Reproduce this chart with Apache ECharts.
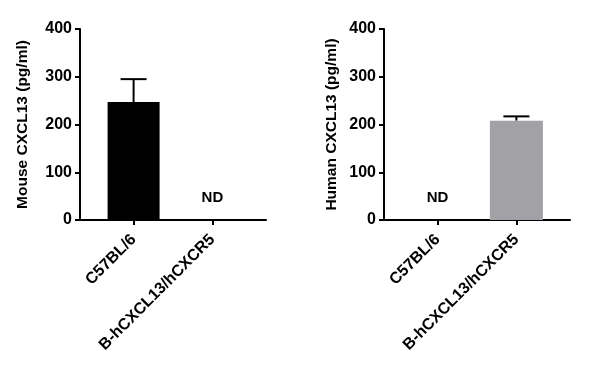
<!DOCTYPE html>
<html>
<head>
<meta charset="utf-8">
<script src="https://cdn.jsdelivr.net/npm/echarts@6/dist/echarts.min.js"></script>
<style>
html,body{margin:0;padding:0;background:#fff;}
#c{width:591px;height:368px;}
</style>
</head>
<body>
<div id="c"></div>
<script>
const categories = ['C57BL/6', 'B-hCXCL13/hCXCR5'];
const mouseMean = [247, null];
const mouseSD = [48, null];
const humanMean = [null, 208];
const humanSD = [null, 9];
const mouseND = [false, true];
const humanND = [true, false];
const yTicks = [0, 100, 200, 300, 400];
const yNames = ['Mouse CXCL13 (pg/ml)', 'Human CXCL13 (pg/ml)'];
const barColors = ['#000000', '#a2a1a6'];
const ndLevel = 46;

const FONT = '"Liberation Sans", Arial, sans-serif';
const chart = echarts.init(document.getElementById('c'), null, {renderer: 'canvas'});

function xAxis(gi) {
  return {
    type: 'value', gridIndex: gi, min: 0.32, max: 2.68,
    axisLine: {show: true, lineStyle: {color: '#000', width: 2}},
    axisTick: {show: true, customValues: [1, 2], length: 5, lineStyle: {color: '#000', width: 2}},
    axisLabel: {
      customValues: [1, 2], rotate: 45, margin: 17,
      color: '#000', fontFamily: FONT, fontWeight: 'bold', fontSize: 16,
      formatter: v => categories[Math.round(v) - 1] || ''
    },
    splitLine: {show: false}
  };
}
function yAxis(gi, gap) {
  return {
    type: 'value', gridIndex: gi, min: 0, max: 400, interval: 100,
    name: yNames[gi], nameLocation: 'middle', nameGap: gap,
    nameTextStyle: {color: '#000', fontFamily: FONT, fontWeight: 'bold', fontSize: 15.5},
    axisLine: {show: true, lineStyle: {color: '#000', width: 2}},
    axisTick: {show: true, length: 5, lineStyle: {color: '#000', width: 2}},
    axisLabel: {color: '#000', fontFamily: FONT, fontWeight: 'bold', fontSize: 16, margin: 8,
      formatter: v => yTicks.includes(v) ? String(v) : ''},
    splitLine: {show: false}
  };
}
function barData(means) {
  return means.map((m, i) => m == null ? null : [i + 1, m]).filter(d => d);
}
function errData(means, sds) {
  return means.map((m, i) => m == null ? null : [i + 1, m, m + sds[i]]).filter(d => d);
}
function ndData(flags) {
  return flags.map((f, i) => f ? [i + 1, ndLevel] : null).filter(d => d);
}
function errSeries(gi, means, sds) {
  return {
    type: 'custom', xAxisIndex: gi, yAxisIndex: gi, z: 1,
    data: errData(means, sds),
    renderItem: (params, api) => {
      const low = api.coord([api.value(0), api.value(1)]);
      const high = api.coord([api.value(0), api.value(2)]);
      const hw = 13;
      return {
        type: 'group',
        children: [
          {type: 'line', shape: {x1: low[0], y1: low[1], x2: high[0], y2: high[1]}, style: {stroke: '#000', lineWidth: 2}},
          {type: 'line', shape: {x1: high[0] - hw, y1: high[1], x2: high[0] + hw, y2: high[1]}, style: {stroke: '#000', lineWidth: 2}}
        ]
      };
    }
  };
}
function ndSeries(gi, flags) {
  return {
    type: 'custom', xAxisIndex: gi, yAxisIndex: gi, silent: true,
    data: ndData(flags),
    renderItem: (params, api) => {
      const p = api.coord([api.value(0), api.value(1)]);
      return {
        type: 'text', x: p[0], y: p[1],
        style: {text: 'ND', fill: '#000', align: 'center', verticalAlign: 'middle',
          font: 'bold 15px ' + FONT}
      };
    }
  };
}

chart.setOption({
  animation: false,
  backgroundColor: '#fff',
  grid: [
    {left: 80, right: 325, top: 29, bottom: 148},
    {left: 384, right: 21, top: 29, bottom: 148}
  ],
  xAxis: [xAxis(0), xAxis(1)],
  yAxis: [yAxis(0, 49), yAxis(1, 44)],
  series: [
    {type: 'bar', xAxisIndex: 0, yAxisIndex: 0, barWidth: 52, z: 2,
      itemStyle: {color: barColors[0]}, data: barData(mouseMean)},
    errSeries(0, mouseMean, mouseSD),
    ndSeries(0, mouseND),
    {type: 'bar', xAxisIndex: 1, yAxisIndex: 1, barWidth: 53, z: 2,
      itemStyle: {color: barColors[1]}, data: barData(humanMean)},
    errSeries(1, humanMean, humanSD),
    ndSeries(1, humanND)
  ]
});
</script>
</body>
</html>
